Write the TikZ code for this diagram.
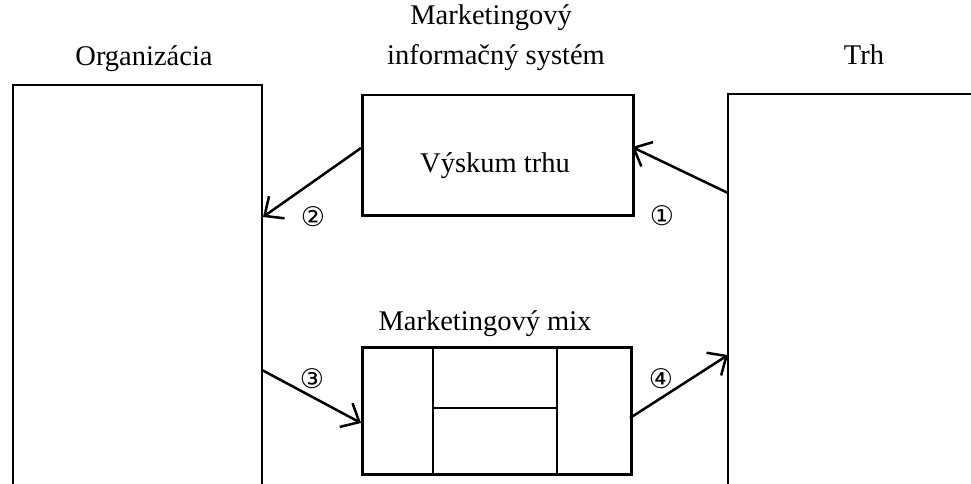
\documentclass[tikz,border=0pt]{standalone}
\usepackage{fontspec}
\setmainfont{Liberation Serif}
\newfontfamily\circfont{DejaVu Sans}
\usetikzlibrary{arrows.meta}
\begin{document}
\begin{tikzpicture}[x=1pt,y=-1pt,
  frame/.style={line width=2.5pt,line join=miter},
  box/.style={draw,line width=2.5pt,inner sep=0pt,anchor=north west},
  flow/.style={line width=2.5pt,-{Straight Barb[length=15pt,width=27pt,line width=2.5pt]}},
  label/.style={font=\fontsize{28.5}{34}\selectfont,anchor=base},
  num/.style={font=\circfont\fontsize{27}{30}\selectfont,inner sep=0pt}]
\useasboundingbox (0,0) rectangle (971,484);

% organisation (left) and market (right), both running off the page
\coordinate (orgBL) at (13,486);
\coordinate (orgTL) at (13,85);
\coordinate (orgTR) at (262,85);
\coordinate (orgBR) at (262,486);
\draw[frame] (orgBL) -- (orgTL) -- (orgTR) -- (orgBR);
\coordinate (mktBL) at (728,486);
\coordinate (mktTL) at (728,94);
\coordinate (mktTR) at (973,94);
\draw[frame] (mktBL) -- (mktTL) -- (mktTR);

% market research box
\node[box,minimum width=271pt,minimum height=120pt] (res) at (361,94) {};
\node[label] (restext) at (495,172) {Výskum trhu};

% marketing mix box with its four parts
\node[box,minimum width=269pt,minimum height=127pt] (mix) at (361,346) {};
\coordinate (mixA) at (433,346);
\coordinate (mixB) at (433,473);
\coordinate (mixC) at (557,346);
\coordinate (mixD) at (557,473);
\coordinate (mixE) at (433,408);
\coordinate (mixF) at (557,408);
\draw[frame] (mixA) -- (mixB);
\draw[frame] (mixC) -- (mixD);
\draw[frame] (mixE) -- (mixF);

% headings
\node[label] (orgtitle) at (144,66) {Organizácia};
\node[label] (mkttitle) at (864,65) {Trh};
\node[label] (mis1) at (491,25) {Marketingový};
\node[label] (mis2) at (496,65) {informačný systém};
\node[label] (mixtitle) at (485,330) {Marketingový mix};

% flows between the blocks
\coordinate (a1s) at (728,193);
\coordinate (a1e) at (632,147);
\coordinate (a2s) at (361,148);
\coordinate (a2e) at (263,217);
\coordinate (a3s) at (262,370);
\coordinate (a3e) at (361,423);
\coordinate (a4s) at (630,418);
\coordinate (a4e) at (728,355);
\draw[flow] (a1s) -- (a1e);
\draw[flow] (a2s) -- (a2e);
\draw[flow] (a3s) -- (a3e);
\draw[flow] (a4s) -- (a4e);

% step numbers
\node[num] (n1) at (662,216) {①};
\node[num] (n2) at (313,217) {②};
\node[num] (n3) at (312,379) {③};
\node[num] (n4) at (661,379) {④};
\end{tikzpicture}
\end{document}
